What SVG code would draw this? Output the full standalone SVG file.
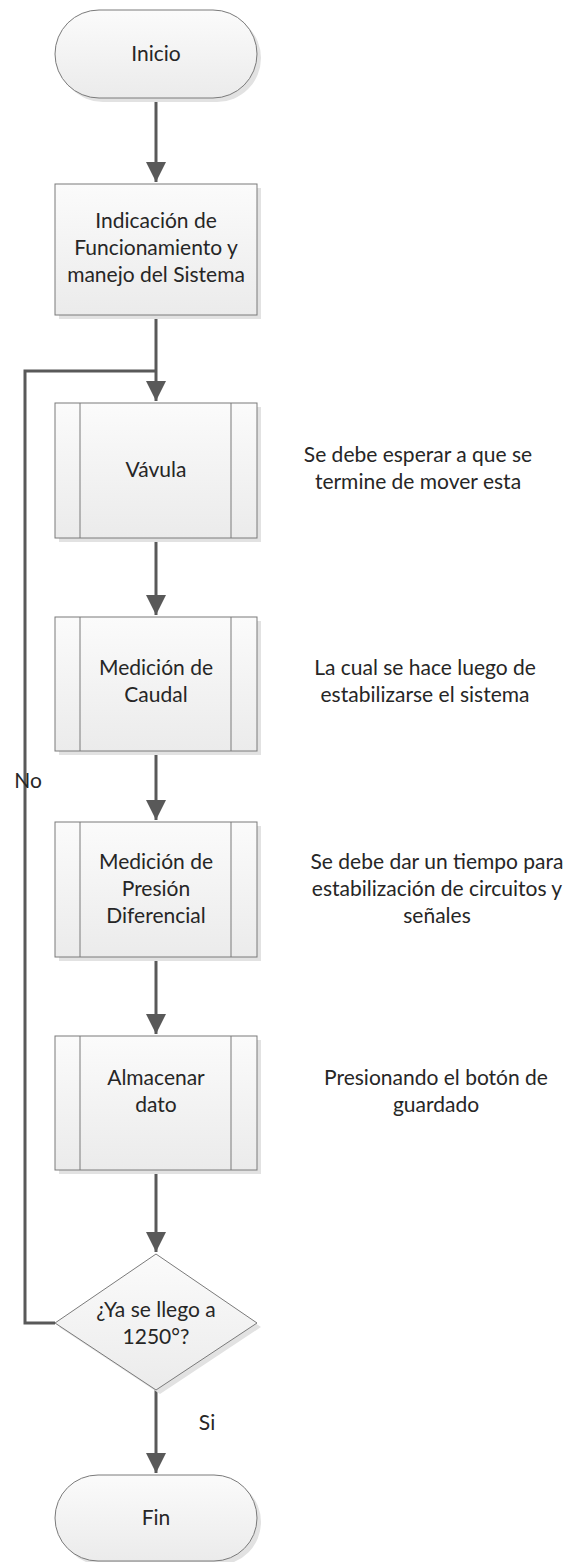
<svg xmlns="http://www.w3.org/2000/svg" width="568" height="1562" viewBox="0 0 568 1562">
<style>
.s{fill:url(#g);stroke:#7a7a7a;stroke-width:1}
.sh{fill:#e2e2e2;stroke:none}
.in{stroke:#7a7a7a;stroke-width:1;fill:none}
.t{font-family:Lato,"Noto Sans",sans-serif;font-size:21px;fill:#262626;text-anchor:middle}
.c{stroke:#595959;stroke-width:3;fill:none}
</style>
<defs>
<linearGradient id="g" x1="0" y1="0" x2="0" y2="1">
<stop offset="0" stop-color="#fbfbfb"/>
<stop offset="1" stop-color="#ebebeb"/>
</linearGradient>
<marker id="a" markerUnits="userSpaceOnUse" markerWidth="22" markerHeight="24" refX="20" refY="10" orient="auto">
<path d="M0,0 L20,10 L0,20 Z" fill="#595959"/>
</marker>
</defs>
<g id="connectors">
<path class="c" d="M156,98 L156,182" marker-end="url(#a)"/>
<path class="c" d="M156,315 L156,401" marker-end="url(#a)"/>
<path class="c" d="M55,1323 L25,1323 L25,371 L156,371"/>
<path class="c" d="M156,538 L156,615" marker-end="url(#a)"/>
<path class="c" d="M156,751 L156,820" marker-end="url(#a)"/>
<path class="c" d="M156,957 L156,1034" marker-end="url(#a)"/>
<path class="c" d="M156,1170 L156,1252" marker-end="url(#a)"/>
<path class="c" d="M156,1390 L156,1473" marker-end="url(#a)"/>
<text class="t" x="28" y="788">No</text>
<text class="t" x="207" y="1430">Si</text>
</g>
<g id="inicio">
<rect class="sh" x="59" y="14" width="202" height="88" rx="44"/>
<rect class="s" x="55" y="10" width="202" height="88" rx="44"/>
<text class="t" x="156" y="61">Inicio</text>
</g>
<g id="indicacion">
<rect class="sh" x="59" y="188" width="202" height="131"/>
<rect class="s" x="55" y="184" width="202" height="131"/>
<text class="t" x="156" y="228">Indicación de</text>
<text class="t" x="156" y="255">Funcionamiento y</text>
<text class="t" x="156" y="282">manejo del Sistema</text>
</g>
<g id="vavula">
<rect class="sh" x="59" y="407" width="202" height="135"/>
<rect class="s" x="55" y="403" width="202" height="135"/>
<path class="in" d="M80,403 V538 M231,403 V538"/>
<text class="t" x="156" y="477">Vávula</text>
</g>
<g id="caudal">
<rect class="sh" x="59" y="621" width="202" height="134"/>
<rect class="s" x="55" y="617" width="202" height="134"/>
<path class="in" d="M80,617 V751 M231,617 V751"/>
<text class="t" x="156" y="675">Medición de</text>
<text class="t" x="156" y="702">Caudal</text>
</g>
<g id="presion">
<rect class="sh" x="59" y="826" width="202" height="135"/>
<rect class="s" x="55" y="822" width="202" height="135"/>
<path class="in" d="M80,822 V957 M231,822 V957"/>
<text class="t" x="156" y="869">Medición de</text>
<text class="t" x="156" y="896">Presión</text>
<text class="t" x="156" y="923">Diferencial</text>
</g>
<g id="almacenar">
<rect class="sh" x="59" y="1040" width="202" height="134"/>
<rect class="s" x="55" y="1036" width="202" height="134"/>
<path class="in" d="M80,1036 V1170 M231,1036 V1170"/>
<text class="t" x="156" y="1085">Almacenar</text>
<text class="t" x="156" y="1112">dato</text>
</g>
<g id="decision">
<polygon class="sh" points="160,1258 261,1327 160,1394 59,1327"/>
<polygon class="s" points="156,1254 257,1323 156,1390 55,1323"/>
<text class="t" x="156" y="1317">¿Ya se llego a</text>
<text class="t" x="156" y="1344">1250°?</text>
</g>
<g id="fin">
<rect class="sh" x="59" y="1479" width="202" height="86" rx="43"/>
<rect class="s" x="55" y="1475" width="202" height="86" rx="43"/>
<text class="t" x="156" y="1525">Fin</text>
</g>
<g id="notes">
<text class="t" x="418" y="462">Se debe esperar a que se</text>
<text class="t" x="418" y="489">termine de mover esta</text>
<text class="t" x="425" y="675">La cual se hace luego de</text>
<text class="t" x="425" y="702">estabilizarse el sistema</text>
<text class="t" x="437" y="869">Se debe dar un tiempo para</text>
<text class="t" x="437" y="896">estabilización de circuitos y</text>
<text class="t" x="437" y="923">señales</text>
<text class="t" x="436" y="1085">Presionando el botón de</text>
<text class="t" x="436" y="1112">guardado</text>
</g>
</svg>
